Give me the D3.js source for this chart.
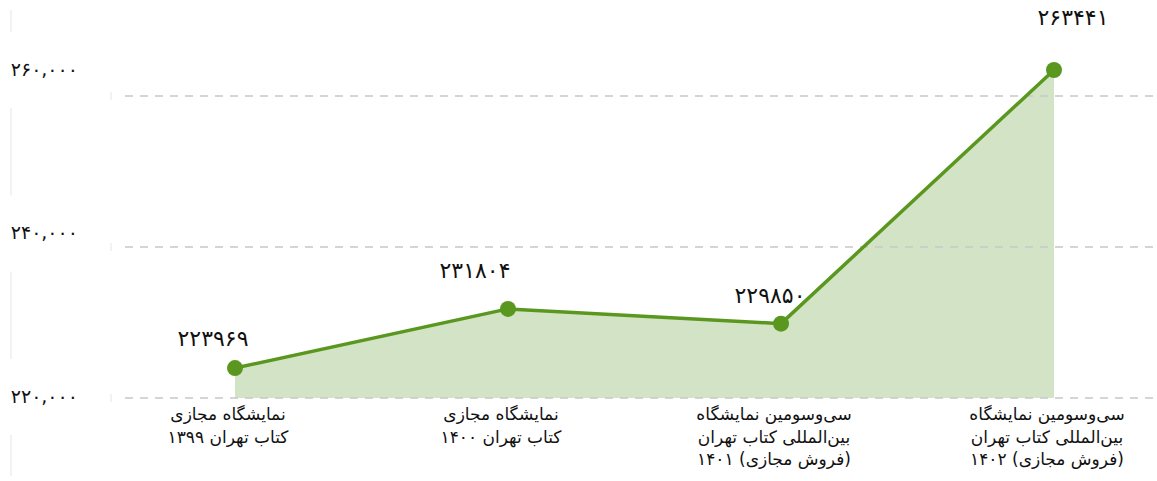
<!DOCTYPE html>
<html>
<head>
<meta charset="utf-8">
<script src="https://cdn.jsdelivr.net/npm/d3@7"></script>
<style>
  html, body { margin: 0; padding: 0; background: #fff; }
  svg { display: block; font-family: 'DejaVu Sans', 'Noto Sans', sans-serif; }
</style>
</head>
<body>
<div id="chart"></div>
<script>
const categories = [
  ['نمایشگاه مجازی', 'کتاب تهران ۱۳۹۹'],
  ['نمایشگاه مجازی', 'کتاب تهران ۱۴۰۰'],
  ['سی‌وسومین نمایشگاه', 'بین‌المللی کتاب تهران', '(فروش مجازی) ۱۴۰۱'],
  ['سی‌وسومین نمایشگاه', 'بین‌المللی کتاب تهران', '(فروش مجازی) ۱۴۰۲']
];
const visitors = [223969, 231804, 229850, 263441];
const yTicks = [220000, 240000, 260000];

const width = 1157;
const height = 481;

const faDigits = '۰۱۲۳۴۵۶۷۸۹';
const toFa = s => String(s).replace(/\d/g, d => faDigits[d]);

const svg = d3.select('#chart')
  .append('svg')
  .attr('width', width)
  .attr('height', height)
  .attr('viewBox', [0, 0, width, height]);

const x = d3.scalePoint()
  .domain(d3.range(categories.length))
  .range([235, 1054]);

const y = d3.scaleLinear()
  .domain([220000, 260000])
  .range([398, 96]);

// tick labels in the source sit a bit above their gridlines
const yLabel = d3.scaleLinear()
  .domain([220000, 260000])
  .range([397, 70]);

// faint left axis line, broken behind the tick labels
svg.append('line')
  .attr('x1', 11).attr('x2', 11)
  .attr('y1', 10).attr('y2', 476)
  .attr('stroke', '#eeeeee')
  .attr('stroke-width', 1.5);

svg.selectAll('.label-bg')
  .data(yTicks)
  .enter()
  .append('rect')
  .attr('x', 0)
  .attr('width', 30)
  .attr('y', d => yLabel(d) - 38)
  .attr('height', 76)
  .attr('fill', '#fff');

const area = d3.area()
  .x((d, i) => x(i))
  .y0(y(220000))
  .y1(d => y(d));

svg.append('path')
  .datum(visitors)
  .attr('d', area)
  .attr('fill', '#d3e4c6');

// dashed gridlines
svg.selectAll('.grid')
  .data(yTicks)
  .enter()
  .append('line')
  .attr('x1', 125)
  .attr('x2', width)
  .attr('y1', d => y(d))
  .attr('y2', d => y(d))
  .attr('stroke', '#c8c8c8')
  .attr('stroke-width', 1.5)
  .attr('stroke-dasharray', '8,7');

svg.selectAll('.tick-mark')
  .data(yTicks)
  .enter()
  .append('line')
  .attr('x1', 111).attr('x2', 111)
  .attr('y1', d => y(d) - 4)
  .attr('y2', d => y(d) + 4)
  .attr('stroke', '#eeeeee')
  .attr('stroke-width', 1.5);

svg.selectAll('.y-label')
  .data(yTicks)
  .enter()
  .append('text')
  .attr('x', 78)
  .attr('y', d => yLabel(d))
  .attr('text-anchor', 'end')
  .attr('dominant-baseline', 'middle')
  .attr('font-size', 19)
  .attr('fill', '#111')
  .text(d => toFa(d3.format(',')(d)));

const line = d3.line()
  .x((d, i) => x(i))
  .y(d => y(d));

svg.append('path')
  .datum(visitors)
  .attr('d', line)
  .attr('fill', 'none')
  .attr('stroke', '#5a971f')
  .attr('stroke-width', 3.5)
  .attr('stroke-linejoin', 'round');

svg.selectAll('.dot')
  .data(visitors)
  .enter()
  .append('circle')
  .attr('cx', (d, i) => x(i))
  .attr('cy', d => y(d))
  .attr('r', 8)
  .attr('fill', '#5a971f');

// value labels, nudged like the original
const nudge = [[-22, -28], [-33, -37], [-11, -27], [19, -51]];
svg.selectAll('.value')
  .data(visitors)
  .enter()
  .append('text')
  .attr('x', (d, i) => x(i) + nudge[i][0])
  .attr('y', (d, i) => y(d) + nudge[i][1])
  .attr('text-anchor', 'middle')
  .attr('dominant-baseline', 'middle')
  .attr('font-size', 22)
  .attr('fill', '#111')
  .text(d => toFa(d));

// category labels
const cat = svg.selectAll('.cat')
  .data(categories)
  .enter()
  .append('text')
  .attr('text-anchor', 'middle')
  .attr('direction', 'rtl')
  .attr('font-size', 17)
  .attr('fill', '#111');

cat.selectAll('tspan')
  .data((d, i) => d.map(t => ({ t, i })))
  .enter()
  .append('tspan')
  .attr('x', d => x(d.i) - 7)
  .attr('y', (d, j) => 420 + j * 22.5)
  .text(d => d.t);
</script>
</body>
</html>
